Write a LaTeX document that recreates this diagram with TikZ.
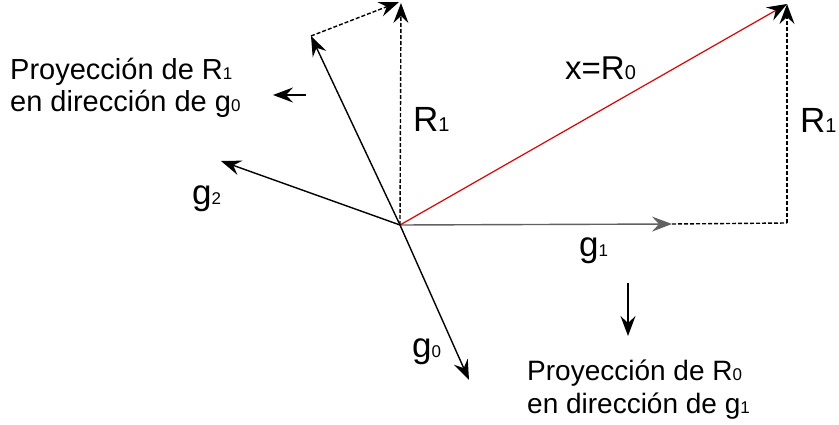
\documentclass[tikz,border=0pt]{standalone}
\usepackage{fontspec}
\setmainfont{Liberation Sans}
\usetikzlibrary{arrows.meta}
\newcommand{\smallidx}[1]{{\fontsize{17}{17}\selectfont #1}}
\newcommand{\bigidx}[1]{{\fontsize{20}{20}\selectfont #1}}
\begin{document}
\begin{tikzpicture}[x=1pt,y=-1pt,
  vec/.style={line width=1.4pt,-{Stealth[length=20pt,width=15pt,inset=7pt]}},
  dsh/.style={vec,dash pattern=on 4pt off 2pt},
  lbl/.style={font=\fontsize{29}{31}\selectfont,inner sep=0pt,anchor=base west},
  low/.style={lbl,font=\fontsize{28}{30}\selectfont},
  big/.style={lbl,font=\fontsize{35}{37}\selectfont}]
\useasboundingbox (0,0) rectangle (839,425);
% points
\coordinate (O) at (400,225);
\coordinate (A) at (672,224);
\coordinate (C) at (787,223);
\coordinate (T) at (787,4);
\coordinate (M) at (401,3);
\coordinate (U) at (311,36);
\coordinate (D) at (469,380);
\coordinate (G) at (221,161);
\coordinate (La) at (306,95);
\coordinate (Lb) at (273,95);
\coordinate (Da) at (628,283);
\coordinate (Db) at (628,336);
% vectors
\draw[vec,black!62] (O) -- (A);
\draw[dsh,-] (A) -- (C);
\draw[dsh] (C) -- (T);
\draw[vec,red!90!black,line width=1.2pt,-{Stealth[length=20pt,width=15pt,inset=7pt,black]}] (O) -- (T);
\draw[dsh] (O) -- (M);
\draw[vec] (O) -- (U);
\draw[dsh] (U) -- ([xshift=-2pt,yshift=1pt]M);
\draw[vec] (O) -- (D);
\draw[vec] (O) -- (G);
\draw[vec] (La) -- (Lb);
\draw[vec] (Da) -- (Db);
% labels
\node[lbl] (t1) at (10,80) {Proyección de R\smallidx{1}};
\node[lbl] (t2) at (10,112) {en dirección de g\smallidx{0}};
\node[big] (r1m) at (413,132) {R\bigidx{1}};
\node[lbl,font=\fontsize{33}{35}\selectfont] (x0) at (565,80) {x=R\bigidx{0}};
\node[big] (r1r) at (800,133) {R\bigidx{1}};
\node[big] (g2) at (192,205) {g\smallidx{2}};
\node[big] (g1) at (579,257) {g\smallidx{1}};
\node[big] (g0) at (412,357) {g\smallidx{0}};
\node[low] (b1) at (527,380) {Proyección de R\smallidx{0}};
\node[low] (b2) at (527,413) {en dirección de g\smallidx{1}};
\end{tikzpicture}
\end{document}
